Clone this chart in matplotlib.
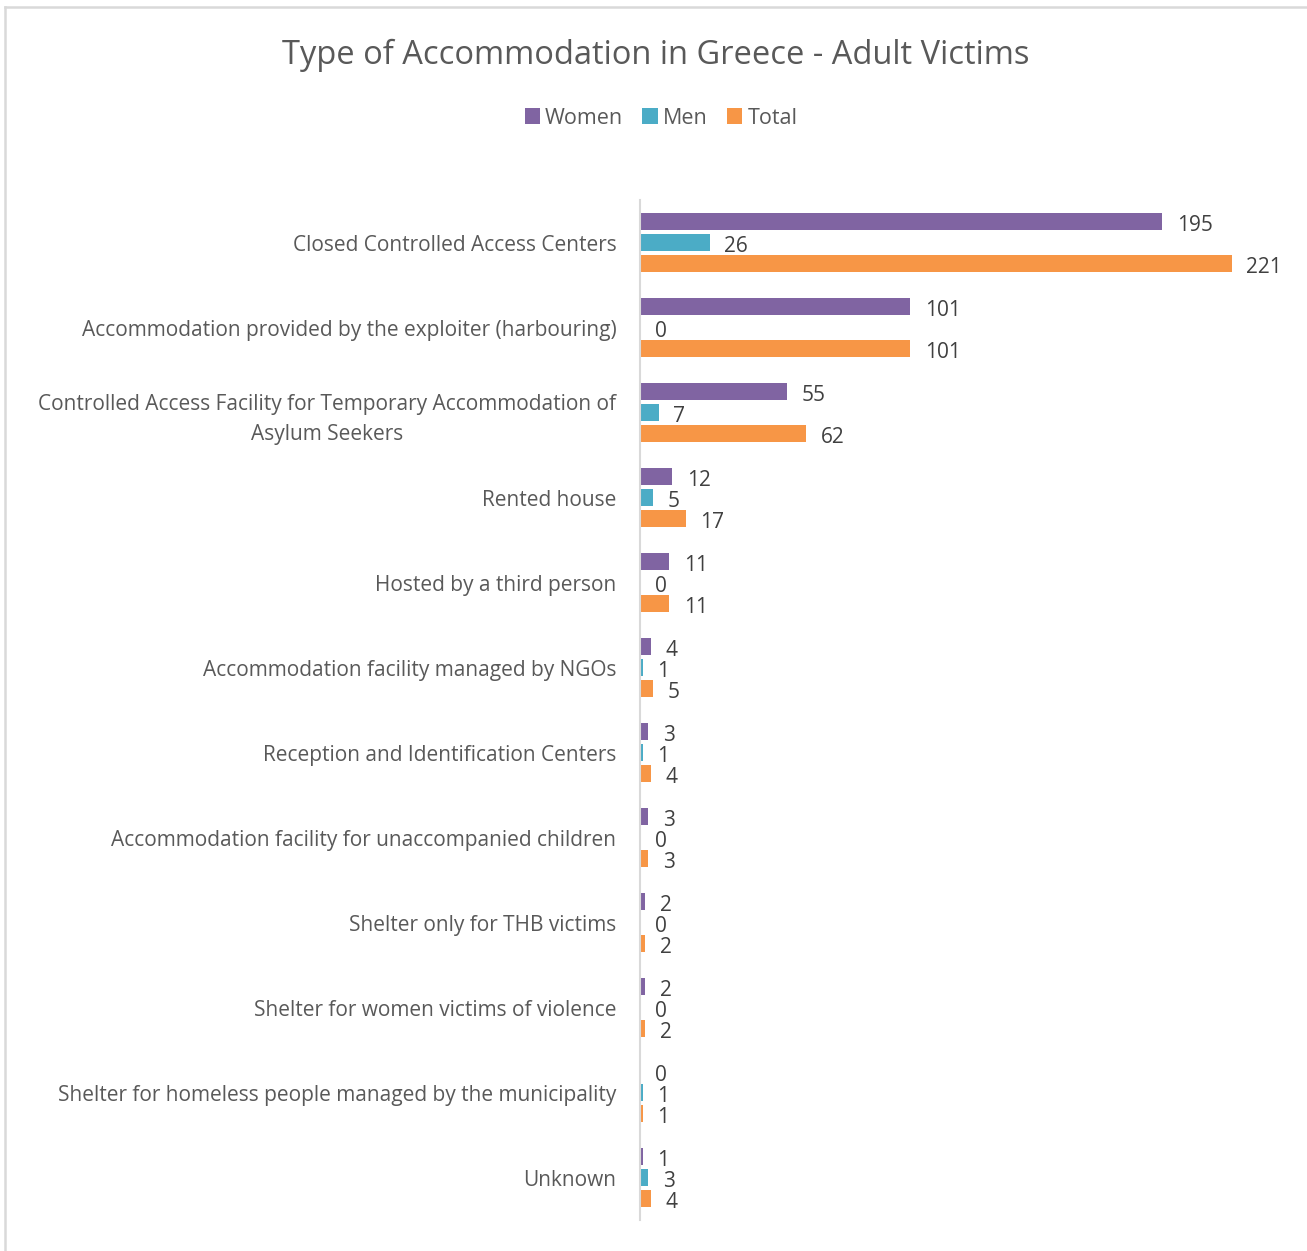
import matplotlib
matplotlib.use("Agg")
import matplotlib.pyplot as plt
from matplotlib.lines import Line2D
import numpy as np

categories = [
    "Closed Controlled Access Centers",
    "Accommodation provided by the exploiter (harbouring)",
    "Controlled Access Facility for Temporary Accommodation of\nAsylum Seekers",
    "Rented house",
    "Hosted by a third person",
    "Accommodation facility managed by NGOs",
    "Reception and Identification Centers",
    "Accommodation facility for unaccompanied children",
    "Shelter only for THB victims",
    "Shelter for women victims of violence",
    "Shelter for homeless people managed by the municipality",
    "Unknown",
]
women = [195, 101, 55, 12, 11, 4, 3, 3, 2, 2, 0, 1]
men = [26, 0, 7, 5, 0, 1, 1, 0, 0, 0, 1, 3]
total = [221, 101, 62, 17, 11, 5, 4, 3, 2, 2, 1, 4]
series_names = ["Women", "Men", "Total"]
colors = ["#8064A2", "#4BACC6", "#F79646"]

plt.rcParams['font.family'] = ['Open Sans', 'DejaVu Sans']

W, H = 1307, 1251
fig = plt.figure(figsize=(W / 100, H / 100), dpi=100)
ax = fig.add_axes([640 / W, 31 / H, 656 / W, 1020 / H])

n = len(categories)
y = np.arange(n)
off = 0.247
bh = 0.2
for i, (vals, name, c) in enumerate(zip([women, men, total], series_names, colors)):
    yy = y + (i - 1) * off
    ax.barh(yy, vals, height=bh, color=c, label=name)
    for v, yv in zip(vals, yy):
        ax.text(v + 5.5, yv + 0.045, str(v), va='center', ha='left', fontsize=15, color='#404040')

ax.set_ylim(n - 0.5, -0.5)
ax.set_xlim(0, 245)
ax.set_yticks(y)
ax.set_yticklabels(categories, fontsize=15, color='#595959', ha='right',
                   multialignment='center', linespacing=1.55)
ax.tick_params(axis='y', length=0, pad=17)
ax.set_xticks([])
for s in ['top', 'right', 'bottom']:
    ax.spines[s].set_visible(False)
ax.spines['left'].set_color('#d9d9d9')
ax.spines['left'].set_linewidth(1.5)

fig.text(656 / W, 1 - 55 / H, "Type of Accommodation in Greece - Adult Victims",
         ha='center', va='center', fontsize=23.5, color='#595959')
fig.legend(loc='center', bbox_to_anchor=(661 / W, 1 - 118 / H), ncol=3, frameon=False,
           fontsize=15.5, handlelength=0.7, handleheight=0.7, handletextpad=0.25,
           columnspacing=0.9, labelcolor='#595959')

fig.lines.append(Line2D([5 / W, 5 / W], [0, 1 - 7 / H], transform=fig.transFigure,
                        color='#d9d9d9', linewidth=1.8))
fig.lines.append(Line2D([5 / W, 1], [1 - 7 / H, 1 - 7 / H], transform=fig.transFigure,
                        color='#d9d9d9', linewidth=1.8))

fig.savefig("out.png", dpi=100, facecolor='white')
